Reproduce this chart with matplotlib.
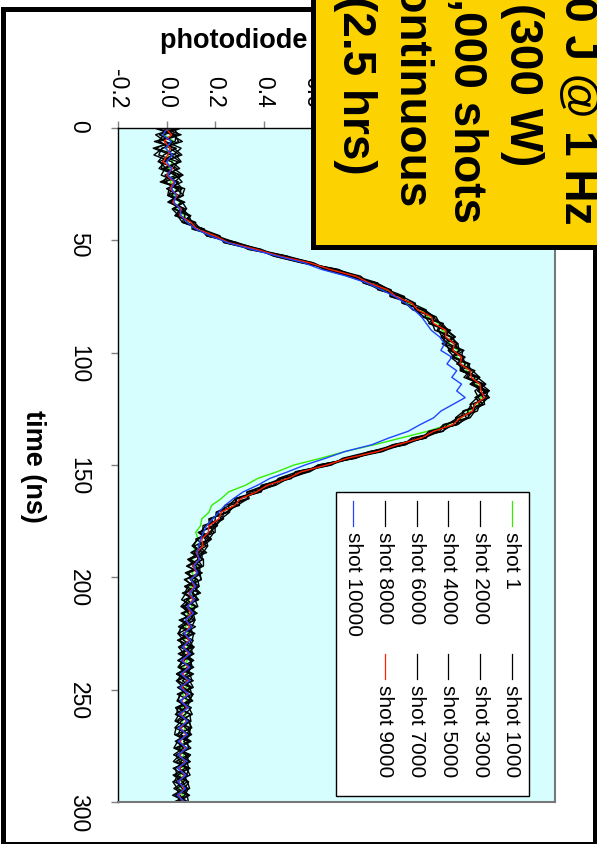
import numpy as np
import matplotlib.pyplot as plt
from matplotlib.patches import Rectangle
from matplotlib.lines import Line2D

plt.rcParams['font.family'] = ['Liberation Sans', 'DejaVu Sans']

# sample times (ns), one reading every 3 ns
time_ns = np.arange(0, 301, 3)

# photodiode traces in mV
shot_1 = [15, -10, 30, 0, 5, 25, 10, 35, 15, 40,
          30, 55, 40, 75, 85, 140, 185, 270, 355, 480,
          575, 690, 765, 850, 895, 965, 995, 1050, 1075, 1120,
          1135, 1170, 1165, 1200, 1195, 1230, 1235, 1270, 1275, 1310,
          1295, 1285, 1245, 1215, 1160, 1075, 965, 855, 735, 635,
          525, 455, 375, 325, 255, 225, 185, 175, 145, 140,
          120, 130, 110, 120, 105, 125, 105, 115, 100, 110,
          90, 105, 85, 95, 78, 90, 72, 88, 70, 85,
          70, 85, 68, 82, 66, 84, 64, 80, 62, 78,
          60, 75, 58, 72, 55, 70, 56, 68, 52, 66,
          58]
shot_1000 = [-50, 30, 50, -15, -52, 20, 54, -7, 39, 65,
             5, 60, 33, 100, 80, 155, 170, 275, 390, 455,
             600, 655, 780, 870, 880, 965, 970, 1065, 1100, 1095,
             1105, 1170, 1200, 1170, 1225, 1210, 1210, 1280, 1315, 1285,
             1305, 1310, 1225, 1210, 1195, 1080, 1055, 980, 835, 760,
             630, 585, 505, 390, 380, 300, 300, 205, 200, 200,
             200, 130, 105, 145, 147, 107, 142, 78, 109, 140,
             72, 89, 125, 52, 104, 92, 50, 104, 63, 107,
             87, 41, 95, 110, 54, 48, 102, 76, 40, 94,
             58, 101, 40, 79, 93, 27, 72, 86, 40, 55,
             80]
shot_2000 = [40, -45, -5, 60, 28, -30, -1, 53, -6, 40,
             70, 15, 58, 35, 110, 115, 215, 240, 350, 495,
             565, 700, 745, 835, 925, 930, 1015, 1030, 1050, 1135,
             1160, 1130, 1160, 1225, 1180, 1245, 1250, 1225, 1295, 1330,
             1275, 1290, 1280, 1200, 1155, 1140, 1020, 970, 885, 735,
             675, 540, 460, 440, 370, 285, 255, 260, 225, 150,
             150, 185, 150, 100, 152, 152, 92, 98, 134, 65,
             117, 129, 70, 92, 49, 112, 105, 54, 113, 67,
             47, 96, 105, 55, 79, 108, 37, 56, 95, 99,
             93, 41, 70, 29, 83, 92, 47, 31, 90, 75,
             40]
shot_3000 = [-20, 60, -30, 15, 53, -5, -31, 38, 64, 0,
             50, 5, 78, 75, 65, 150, 180, 290, 340, 480,
             605, 665, 790, 810, 910, 980, 980, 1055, 1105, 1080,
             1150, 1185, 1135, 1180, 1230, 1195, 1260, 1290, 1250, 1305,
             1330, 1255, 1240, 1245, 1190, 1095, 1065, 930, 870, 770,
             640, 590, 465, 425, 330, 335, 290, 210, 235, 190,
             135, 160, 170, 150, 87, 122, 137, 143, 74, 110,
             132, 64, 90, 117, 104, 47, 70, 114, 88, 47,
             102, 86, 40, 70, 109, 88, 42, 101, 60, 34,
             98, 71, 100, 39, 53, 82, 97, 41, 65, 90,
             30]
shot_4000 = [55, -30, 25, -45, 38, 60, -6, -22, 49, 20,
             10, 70, 28, 90, 105, 105, 210, 245, 385, 450,
             570, 705, 785, 815, 885, 970, 1025, 1020, 1095, 1130,
             1115, 1175, 1195, 1160, 1185, 1250, 1215, 1270, 1260, 1325,
             1315, 1265, 1270, 1250, 1140, 1115, 1030, 985, 840, 725,
             680, 550, 510, 395, 385, 290, 280, 255, 175, 195,
             185, 120, 165, 115, 132, 82, 147, 103, 124, 80,
             62, 119, 105, 62, 119, 67, 100, 49, 73, 112,
             57, 106, 45, 100, 59, 43, 92, 106, 45, 79,
             103, 46, 30, 94, 58, 77, 32, 86, 95, 35,
             70]
shot_5000 = [-35, 20, 65, -20, -32, 45, 29, 68, -11, 50,
             20, 65, 83, 45, 65, 145, 220, 235, 370, 495,
             600, 660, 755, 865, 920, 920, 1010, 1070, 1065, 1085,
             1170, 1140, 1185, 1210, 1170, 1205, 1270, 1240, 1305, 1270,
             1285, 1300, 1220, 1235, 1200, 1090, 1065, 945, 890, 760,
             670, 535, 500, 450, 345, 330, 240, 235, 230, 160,
             140, 180, 130, 165, 97, 142, 82, 128, 134, 105,
             127, 64, 115, 97, 64, 117, 55, 69, 108, 47,
             112, 61, 45, 95, 104, 53, 77, 36, 90, 104,
             38, 86, 90, 54, 28, 92, 82, 71, 30, 85,
             90]
shot_6000 = [25, 50, -50, 40, -12, -35, 44, 8, -16, 75,
             65, 10, 63, 95, 70, 155, 165, 280, 375, 440,
             555, 695, 800, 830, 875, 965, 985, 1015, 1110, 1125,
             1155, 1190, 1150, 1165, 1220, 1230, 1210, 1285, 1265, 1320,
             1280, 1250, 1265, 1195, 1180, 1135, 1010, 975, 850, 780,
             625, 575, 470, 445, 370, 280, 290, 245, 180, 210,
             175, 125, 110, 155, 127, 147, 77, 123, 79, 135,
             82, 124, 60, 112, 64, 47, 110, 94, 53, 97,
             107, 41, 85, 55, 109, 93, 47, 41, 100, 59,
             48, 96, 35, 99, 73, 37, 42, 91, 75, 25,
             85]
shot_7000 = [60, -10, -35, 30, 63, -15, -21, 63, 34, 10,
             5, 75, 23, 50, 120, 110, 205, 285, 335, 485,
             595, 650, 750, 865, 915, 925, 1020, 1025, 1060, 1140,
             1120, 1135, 1200, 1205, 1175, 1240, 1255, 1235, 1310, 1280,
             1325, 1295, 1225, 1190, 1195, 1085, 1070, 935, 880, 735,
             665, 530, 515, 405, 335, 340, 260, 205, 225, 205,
             130, 170, 145, 105, 152, 87, 132, 143, 89, 75,
             122, 74, 125, 57, 99, 107, 45, 99, 108, 72,
             52, 111, 65, 105, 44, 98, 82, 51, 35, 99,
             83, 36, 85, 44, 98, 52, 87, 26, 45, 95,
             45]
shot_8000 = [-45, 40, 35, -55, 18, 55, -16, 38, -26, 60,
             55, 20, 73, 35, 115, 140, 165, 290, 380, 445,
             560, 710, 755, 860, 870, 975, 975, 1055, 1105, 1090,
             1165, 1145, 1140, 1220, 1215, 1200, 1225, 1290, 1255, 1315,
             1270, 1305, 1260, 1240, 1145, 1125, 1060, 940, 845, 775,
             625, 580, 475, 400, 390, 285, 285, 250, 175, 175,
             195, 175, 115, 135, 92, 137, 137, 73, 114, 130,
             87, 59, 110, 117, 59, 52, 95, 109, 48, 102,
             97, 46, 110, 45, 89, 103, 52, 96, 100, 39,
             33, 91, 50, 89, 38, 97, 27, 66, 85, 40,
             90]
shot_9000 = [-5, 20, -10, 15, 5, -15, 25, 0, 30, 15,
             45, 25, 60, 55, 100, 125, 200, 255, 370, 465,
             590, 675, 780, 835, 910, 945, 1010, 1035, 1090, 1100,
             1150, 1150, 1185, 1180, 1215, 1210, 1250, 1255, 1290, 1295,
             1310, 1270, 1260, 1210, 1180, 1100, 1050, 950, 870, 745,
             660, 555, 500, 415, 370, 305, 280, 225, 215, 175,
             172, 145, 150, 122, 135, 108, 125, 100, 115, 92,
             108, 86, 100, 80, 95, 75, 92, 70, 90, 68,
             88, 66, 86, 65, 85, 62, 84, 60, 82, 58,
             80, 55, 78, 53, 76, 52, 74, 50, 72, 50,
             68]
shot_10000 = [5, -15, 20, -5, 25, 0, 20, 5, 35, 20,
              40, 30, 55, 60, 85, 120, 180, 250, 350, 455,
              565, 640, 745, 825, 885, 940, 985, 1020, 1050, 1070,
              1090, 1125, 1145, 1130, 1175, 1155, 1195, 1175, 1215, 1195,
              1230, 1180, 1130, 1100, 1045, 995, 915, 845, 735, 655,
              570, 500, 425, 375, 315, 275, 240, 215, 190, 165,
              152, 140, 133, 126, 135, 112, 128, 100, 120, 95,
              115, 85, 110, 78, 104, 72, 100, 65, 98, 60,
              96, 58, 95, 55, 92, 56, 90, 52, 88, 50,
              86, 48, 84, 47, 82, 45, 80, 46, 78, 44,
              75]

shot_labels = ['shot 1', 'shot 1000', 'shot 2000', 'shot 3000', 'shot 4000',
               'shot 5000', 'shot 6000', 'shot 7000', 'shot 8000',
               'shot 9000', 'shot 10000']
traces = [shot_1, shot_1000, shot_2000, shot_3000, shot_4000, shot_5000,
          shot_6000, shot_7000, shot_8000, shot_9000, shot_10000]
colors = ['#33ee00'] + ['black'] * 8 + ['#ff2200', '#2244ff']

xticks = [-0.2, 0.0, 0.2, 0.4, 0.6, 0.8, 1.0, 1.2, 1.4, 1.6]
yticks = [0, 50, 100, 150, 200, 250, 300]

W, H = 597, 845
fig = plt.figure(figsize=(W / 100, H / 100), dpi=100)
ax = fig.add_axes([118 / W, 1 - 803 / H, 437 / W, 674 / H])
ax.set_facecolor('#d6fefe')

# plot is turned a quarter turn: signal runs across, time runs down
for mv, c in zip(traces, colors):
    ax.plot(np.array(mv) / 1000.0, time_ns, color=c, lw=1.0)

ax.set_xlim(-0.2, 1.6)
ax.set_ylim(300, 0)
ax.set_xticks(xticks)
ax.set_xticklabels(['%.1f' % v for v in xticks])
ax.set_yticks(yticks)
ax.xaxis.tick_top()
ax.tick_params(axis='x', direction='out', length=5, width=1, color='#808080',
               pad=10, labelsize=16.5, labelrotation=-90)
ax.tick_params(axis='y', direction='out', length=5, width=1, color='#808080',
               pad=15, labelsize=16.5, labelrotation=-90)
for s in ['left', 'top']:
    ax.spines[s].set_color('black')
    ax.spines[s].set_linewidth(1.0)
for s in ['right', 'bottom']:
    ax.spines[s].set_color('#777777')
    ax.spines[s].set_linewidth(1.5)

fig.text(33 / W, 1 - 466 / H, 'time (ns)', rotation=-90, ha='center',
         va='center', fontsize=19.5, fontweight='bold')
fig.text(160 / W, 1 - 48 / H, 'photodiode signal (V)', ha='left',
         va='baseline', fontsize=19.5, fontweight='bold')

# legend, drawn by hand so it can be turned with the plot
def ax_x(px):
    return (px - 118) / 437.0

def ax_y(py):
    return (803 - py) / 674.0

ax.add_patch(Rectangle((ax_x(336), ax_y(797)), ax_x(529) - ax_x(336),
                       ax_y(493) - ax_y(797), transform=ax.transAxes,
                       fc='white', ec='black', lw=1.0, zorder=5))
for i, (lab, c) in enumerate(zip(shot_labels, colors)):
    row, col = i // 2, i % 2
    px = 512 - 31.8 * row
    py0 = 502 if col == 0 else 655
    ax.add_line(Line2D([ax_x(px), ax_x(px)], [ax_y(py0), ax_y(py0 + 25)],
                       transform=ax.transAxes, color=c, lw=0.9, zorder=6))
    ax.text(ax_x(px), ax_y(py0 + 30), lab, transform=ax.transAxes,
            rotation=-90, ha='center', va='top', fontsize=15, zorder=6)

# outer frame and the yellow note box
fig.add_artist(Rectangle((2.5 / W, 1 - 844.5 / H), 592 / W, 835 / H,
                         transform=fig.transFigure, fill=False, ec='black',
                         lw=3.6, zorder=9))
fig.add_artist(Rectangle((312.5 / W, 1 - 247.5 / H), 400 / W, 400 / H,
                         transform=fig.transFigure, fc='#fcd200', ec='black',
                         lw=3.6, zorder=10))
fig.text(466 / W, 1 - 85 / H,
         '300 J @ 1 Hz\n(300 W)\n10,000 shots\ncontinuous\n(2.5 hrs)',
         rotation=-90, ha='center', va='center', multialignment='center',
         linespacing=1.34, fontsize=33, fontweight='bold', zorder=11)

fig.savefig('out.png', dpi=100)
